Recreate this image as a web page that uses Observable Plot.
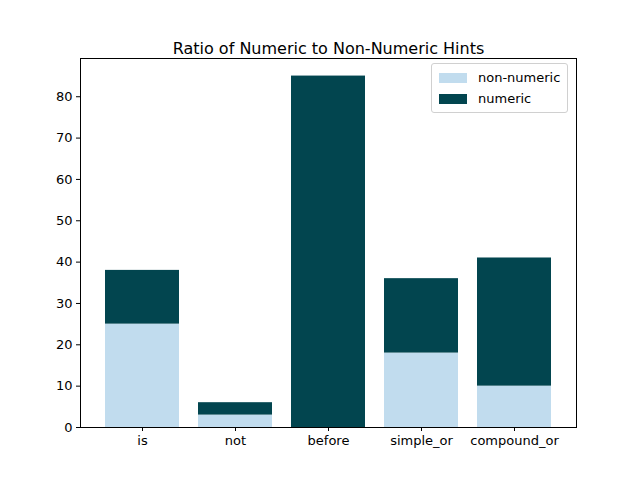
<!DOCTYPE html>
<html><head><meta charset="utf-8">
<script src="https://cdn.jsdelivr.net/npm/d3@7"></script>
<script src="https://cdn.jsdelivr.net/npm/@observablehq/plot@0.6"></script>
<style>body{margin:0;background:#fff;font-family:"DejaVu Sans",sans-serif}#wrap{position:relative;width:640px;height:480px}
#legend{position:absolute;left:431px;top:63px;width:137px;border:1px solid #d0d0d0;border-radius:3px;background:#fff;font-size:13px;padding:3px 0 3px 7px;box-sizing:border-box}
#legend div{display:flex;align-items:center;height:21px}#legend span.sw{width:28px;height:10px;margin-right:11px}</style>
</head><body><div id="wrap"></div>
<script>
const categories = ["is","not","before","simple_or","compound_or"];
const nonNumeric = [25,3,0,18,10];
const numeric = [13,3,85,18,31];
const yTicks = [0,10,20,30,40,50,60,70,80];
const seriesNames = ["non-numeric","numeric"];
const colors = ["#c1dcee","#02454f"];

const rows = [];
categories.forEach((c,i)=>{
  rows.push({cat:c, series:"non-numeric", v:nonNumeric[i]});
  rows.push({cat:c, series:"numeric", v:numeric[i]});
});
const chart = Plot.plot({
  width:640, height:480, marginLeft:80, marginRight:64, marginTop:58, marginBottom:53,
  style:{fontSize:"13px", fontFamily:"DejaVu Sans, sans-serif", color:"#000"},
  x:{domain:categories, padding:0.2, paddingOuter:0.24, label:null, tickSize:4, tickPadding:4},
  y:{domain:[0,89.25], ticks:yTicks, label:null, tickSize:4, tickPadding:4},
  color:{domain:seriesNames, range:colors},
  marks:[
    Plot.barY(rows, Plot.stackY({x:"cat", y:"v", fill:"series", order:seriesNames})),
    Plot.frame({stroke:"#000"}),
    Plot.text(["Ratio of Numeric to Non-Numeric Hints"],{frameAnchor:"top", dy:-16, fontSize:16, text:d=>d})
  ]
});
document.getElementById("wrap").appendChild(chart);
const lg = document.createElement("div"); lg.id="legend";
lg.innerHTML = seriesNames.map((s,i)=>`<div><span class="sw" style="background:${colors[i]}"></span>${s}</div>`).join("");
document.getElementById("wrap").appendChild(lg);
</script></body></html>
